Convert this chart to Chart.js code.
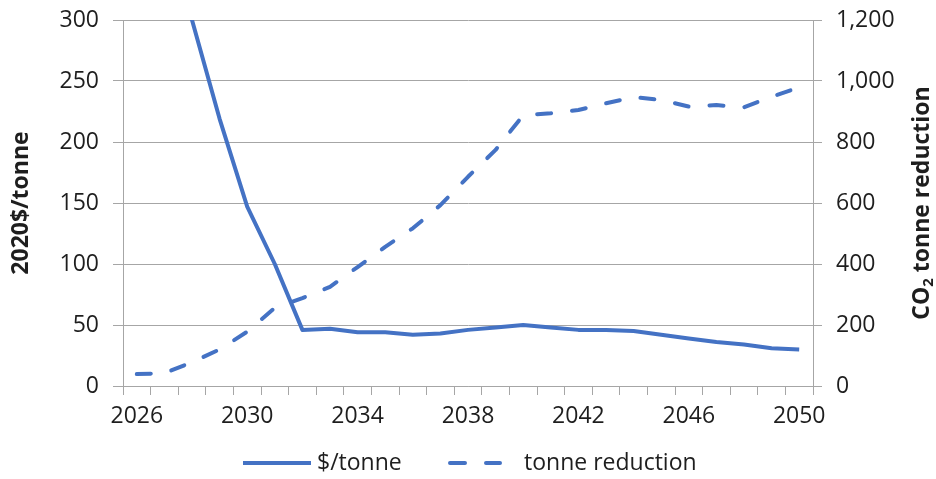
<!DOCTYPE html>
<html>
<head>
<meta charset="utf-8">
<script src="https://cdn.jsdelivr.net/npm/chart.js@4/dist/chart.umd.min.js"></script>
<style>
  html, body { margin: 0; padding: 0; background: #fff; }
  #wrap { width: 936px; height: 479px; position: relative; }
</style>
</head>
<body>
<div id="wrap"><canvas id="c"></canvas></div>
<script>
// carbon price vs. CO2 reduction, 2026-2050

const years = ['2026', '2027', '2028', '2029', '2030', '2031', '2032', '2033', '2034',
  '2035', '2036', '2037', '2038', '2039', '2040', '2041', '2042', '2043', '2044',
  '2045', '2046', '2047', '2048', '2049', '2050'];

// $/tonne (left axis) - early years run off the top of the chart
const pricePerTonne = [520, 400, 300, 219, 147, 100, 46, 47, 44, 44, 42, 43, 46, 48,
  50, 48, 46, 46, 45, 42, 39, 36, 34, 31, 30];

// tonne reduction (right axis)
const tonneReduction = [39, 42, 78, 120, 178, 256, 288, 325, 390, 456, 517, 593, 686,
  774, 888, 894, 905, 927, 947, 938, 916, 921, 914, 948, 979];

const leftTicks = [0, 50, 100, 150, 200, 250, 300];
const rightTicks = [0, 200, 400, 600, 800, 1000, 1200];

const blue = '#4472c4';
const grid = '#a6a6a6';
const ink = '#1e1e1e';
const fontFam = '"Open Sans", "Noto Sans", sans-serif';
const dash = [14, 21]; // round caps add 2px at each end

// axis titles read bottom-to-top on both sides, and the legend has
// its own spacing, so both are drawn here
const extras = {
  id: 'extras',
  afterDraw(chart) {
    const ctx = chart.ctx;
    const a = chart.chartArea;
    const midY = (a.top + a.bottom) / 2;
    const big = 'bold 23px ' + fontFam;
    const small = 'bold 15px ' + fontFam;
    ctx.save();
    ctx.fillStyle = ink;
    ctx.textBaseline = 'middle';

    // left title
    ctx.save();
    ctx.translate(21, midY);
    ctx.rotate(-Math.PI / 2);
    ctx.font = big;
    ctx.textAlign = 'center';
    ctx.fillText('2020$/tonne', 0, 0);
    ctx.restore();

    // right title, with subscript 2
    ctx.save();
    ctx.translate(922, midY);
    ctx.rotate(-Math.PI / 2);
    ctx.font = big;
    const w1 = ctx.measureText('CO').width;
    const w3 = ctx.measureText(' tonne reduction').width;
    ctx.font = small;
    const w2 = ctx.measureText('2').width;
    let x = -(w1 + w2 + w3) / 2;
    ctx.textAlign = 'left';
    ctx.font = big;
    ctx.fillText('CO', x, 0);
    x += w1;
    ctx.font = small;
    ctx.fillText('2', x, 7);
    x += w2;
    ctx.font = big;
    ctx.fillText(' tonne reduction', x, 0);
    ctx.restore();

    // legend
    const ly = 463;
    ctx.strokeStyle = blue;
    ctx.lineWidth = 4;
    ctx.lineCap = 'butt';
    ctx.beginPath();
    ctx.moveTo(243, ly);
    ctx.lineTo(311, ly);
    ctx.stroke();
    ctx.lineCap = 'round';
    ctx.setLineDash([15, 21]);
    ctx.beginPath();
    ctx.moveTo(450, ly);
    ctx.lineTo(500, ly);
    ctx.stroke();
    ctx.setLineDash([]);
    ctx.font = '23px ' + fontFam;
    ctx.textAlign = 'left';
    ctx.fillText('$/tonne', 317, ly);
    ctx.fillText('tonne reduction', 524, ly);

    ctx.restore();
  }
};

// keep the tick labels from pushing the plot area down
function noOverflow(s) {
  s.paddingTop = 0;
  s.paddingBottom = 0;
}

Chart.defaults.font.family = fontFam;
Chart.defaults.color = ink;

new Chart(document.getElementById('c'), {
  type: 'line',
  data: {
    labels: years,
    datasets: [
      {
        label: '$/tonne',
        data: pricePerTonne,
        yAxisID: 'y',
        borderColor: blue,
        backgroundColor: blue,
        borderWidth: 4,
        borderJoinStyle: 'round',
        pointRadius: 0,
        tension: 0,
        clip: 0
      },
      {
        label: 'tonne reduction',
        data: tonneReduction,
        yAxisID: 'y2',
        borderColor: blue,
        backgroundColor: blue,
        borderWidth: 4,
        borderDash: dash,
        borderCapStyle: 'round',
        borderJoinStyle: 'round',
        pointRadius: 0,
        tension: 0,
        clip: 0
      }
    ]
  },
  options: {
    responsive: true,
    maintainAspectRatio: false,
    animation: false,
    layout: { padding: { top: 20, bottom: 43, left: 0, right: 0 } },
    plugins: {
      tooltip: { enabled: false },
      legend: { display: false }
    },
    scales: {
      x: {
        type: 'category',
        offset: true,
        grid: { display: true, drawOnChartArea: false, color: grid, tickLength: 9, offset: true },
        border: { color: grid, width: 1 },
        ticks: {
          autoSkip: false,
          maxRotation: 0,
          padding: 8,
          font: { size: 23 },
          callback: (v, i) => (i % 4 === 0 ? years[i] : '')
        },
        afterFit: s => { s.height = 50; }
      },
      y: {
        position: 'left',
        min: 0,
        max: 300,
        afterBuildTicks: s => { s.ticks = leftTicks.map(v => ({ value: v })); },
        grid: { color: grid, tickLength: 10 },
        border: { color: grid, width: 1 },
        ticks: { padding: 14, font: { size: 23 } },
        afterFit: s => { s.width = 123; noOverflow(s); }
      },
      y2: {
        position: 'right',
        min: 0,
        max: 1200,
        afterBuildTicks: s => { s.ticks = rightTicks.map(v => ({ value: v })); },
        grid: { drawOnChartArea: false, color: grid, tickLength: 9 },
        border: { color: grid, width: 1 },
        ticks: {
          padding: 14,
          font: { size: 23 },
          callback: v => v.toLocaleString('en-US')
        },
        afterFit: s => { s.width = 123; noOverflow(s); }
      }
    }
  },
  plugins: [extras]
});
</script>
</body>
</html>
